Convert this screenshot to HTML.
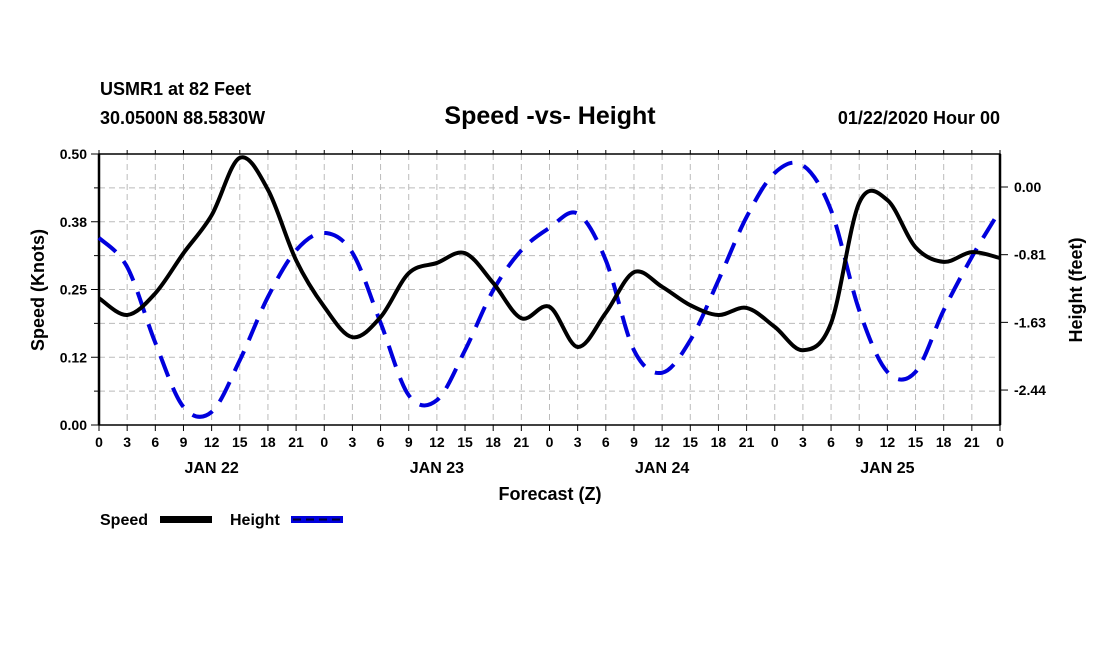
<!DOCTYPE html>
<html><head><meta charset="utf-8"><style>
body{margin:0;background:#fff;}
svg{display:block;font-family:"Liberation Sans",sans-serif;font-weight:bold;}
</style></head><body>
<svg id="c" width="1100" height="650">
<text x="100" y="95" font-size="18">USMR1 at 82 Feet</text>
<text x="100" y="124" font-size="18">30.0500N 88.5830W</text>
<text x="550" y="124" font-size="25" text-anchor="middle">Speed -vs- Height</text>
<text x="1000" y="124" font-size="18" text-anchor="end">01/22/2020 Hour 00</text>
<g id="grid"></g><g id="axes"></g><g id="series"></g>
<text x="550" y="500" font-size="18" text-anchor="middle">Forecast (Z)</text>
<text transform="translate(44,290) rotate(-90)" font-size="18" text-anchor="middle">Speed (Knots)</text>
<text transform="translate(1082,290) rotate(-90)" font-size="18" text-anchor="middle">Height (feet)</text>
<g>
<text x="100" y="525" font-size="16">Speed</text>
<rect x="160" y="516" width="52" height="7" fill="#000"/>
<text x="230" y="525" font-size="16">Height</text>
<rect x="291" y="516" width="52" height="7" fill="#0000dd"/>
<line x1="293" x2="341" y1="519.5" y2="519.5" stroke="#000033" stroke-width="2" stroke-dasharray="8,5"/>
</g>
</svg>
<script>
const hours=[0,3,6,9,12,15,18,21,24,27,30,33,36,39,42,45,48,51,54,57,60,63,66,69,72,75,78,81,84,87,90,93,96];
const speed=[0.234,0.203,0.243,0.317,0.387,0.493,0.434,0.304,0.218,0.162,0.199,0.28,0.299,0.317,0.262,0.197,0.218,0.144,0.207,0.282,0.255,0.221,0.203,0.216,0.181,0.138,0.188,0.41,0.415,0.328,0.301,0.319,0.308];
const height=[-0.61,-0.96,-1.87,-2.64,-2.70,-2.08,-1.32,-0.76,-0.55,-0.79,-1.63,-2.50,-2.56,-1.96,-1.24,-0.76,-0.49,-0.32,-0.88,-1.96,-2.23,-1.84,-1.12,-0.36,0.17,0.26,-0.28,-1.48,-2.22,-2.22,-1.48,-0.84,-0.28];
const leftTicks=["0.00","0.12","0.25","0.38","0.50"];
const leftTickVals=[0,0.125,0.25,0.375,0.5];
const rightTicks=["0.00","-0.81","-1.63","-2.44"];
const rightTickVals=[0,-0.8125,-1.625,-2.4375];
const dayLabels=["JAN 22","JAN 23","JAN 24","JAN 25"];
const X0=99,X1=1000,Y0=154,Y1=425;
const xs=h=>X0+(X1-X0)*h/96;
const ys=v=>Y1-(Y1-Y0)*v/0.5;
const yh=v=>187-83.3*v;
const NS="http://www.w3.org/2000/svg";
function mk(p,t,a){const e=document.createElementNS(NS,t);for(const k in a)e.setAttribute(k,a[k]);p.appendChild(e);return e;}
const G=document.getElementById('grid'),A=document.getElementById('axes'),S=document.getElementById('series');
for(let h=3;h<96;h+=3){const l=mk(G,'line',{x1:xs(h),x2:xs(h),y1:Y0,y2:Y1,stroke:'#bbb','stroke-dasharray':'6,4'});

}
for(let i=1;i<8;i++){const v=i*0.0625;const l=mk(G,'line',{x1:X0,x2:X1,y1:ys(v),y2:ys(v),stroke:'#bbb','stroke-dasharray':'6,4'});

}
const fr=mk(A,'rect',{x:X0,y:Y0,width:X1-X0,height:Y1-Y0,fill:'none',stroke:'#000','stroke-width':1.5});


mk(A,'line',{x1:X0,x2:X0,y1:Y0,y2:Y1,stroke:'#000','stroke-width':2.5});
mk(A,'line',{x1:X1,x2:X1,y1:Y0,y2:Y1,stroke:'#000','stroke-width':2.5});
for(let h=0;h<=96;h+=3){mk(A,'line',{x1:xs(h),x2:xs(h),y1:Y1,y2:Y1+6,stroke:'#000'});mk(A,'line',{x1:xs(h),x2:xs(h),y1:Y0,y2:Y0-4,stroke:'#000'});
const t=mk(A,'text',{x:xs(h),y:Y1+22,'font-size':14,'text-anchor':'middle'});t.textContent=String(h%24);

}
dayLabels.forEach((d,i)=>{const t=mk(A,'text',{x:xs(12+24*i),y:Y1+48,'font-size':16,'text-anchor':'middle'});t.textContent=d;

});
for(let i=0;i<=8;i++){const y=ys(i*0.0625);mk(A,'line',{x1:X0-(i%2?5:8),x2:X0,y1:y,y2:y,stroke:'#000'});}
leftTicks.forEach((s,i)=>{const t=mk(A,'text',{x:X0-12,y:ys(leftTickVals[i])+5,'font-size':14,'text-anchor':'end'});t.textContent=s;

});
rightTicks.forEach((s,i)=>{const y=yh(rightTickVals[i]);mk(A,'line',{x1:X1,x2:X1+8,y1:y,y2:y,stroke:'#000'});
const t=mk(A,'text',{x:X1+14,y:y+5,'font-size':14});t.textContent=s;

});
function path(pts){let d=`M${pts[0][0]},${pts[0][1]}`;for(let i=0;i<pts.length-1;i++){const p0=pts[Math.max(0,i-1)],p1=pts[i],p2=pts[i+1],p3=pts[Math.min(pts.length-1,i+2)];
d+=` C${p1[0]+(p2[0]-p0[0])/6},${p1[1]+(p2[1]-p0[1])/6} ${p2[0]-(p3[0]-p1[0])/6},${p2[1]-(p3[1]-p1[1])/6} ${p2[0]},${p2[1]}`;}return d;}
const hp=mk(S,'path',{d:path(hours.map((h,i)=>[xs(h),yh(height[i])])),fill:'none',stroke:'#0000dd','stroke-width':4,'stroke-dasharray':'22,12'});


const sp=mk(S,'path',{d:path(hours.map((h,i)=>[xs(h),ys(speed[i])])),fill:'none',stroke:'#000','stroke-width':4});


</script>
</body></html>
